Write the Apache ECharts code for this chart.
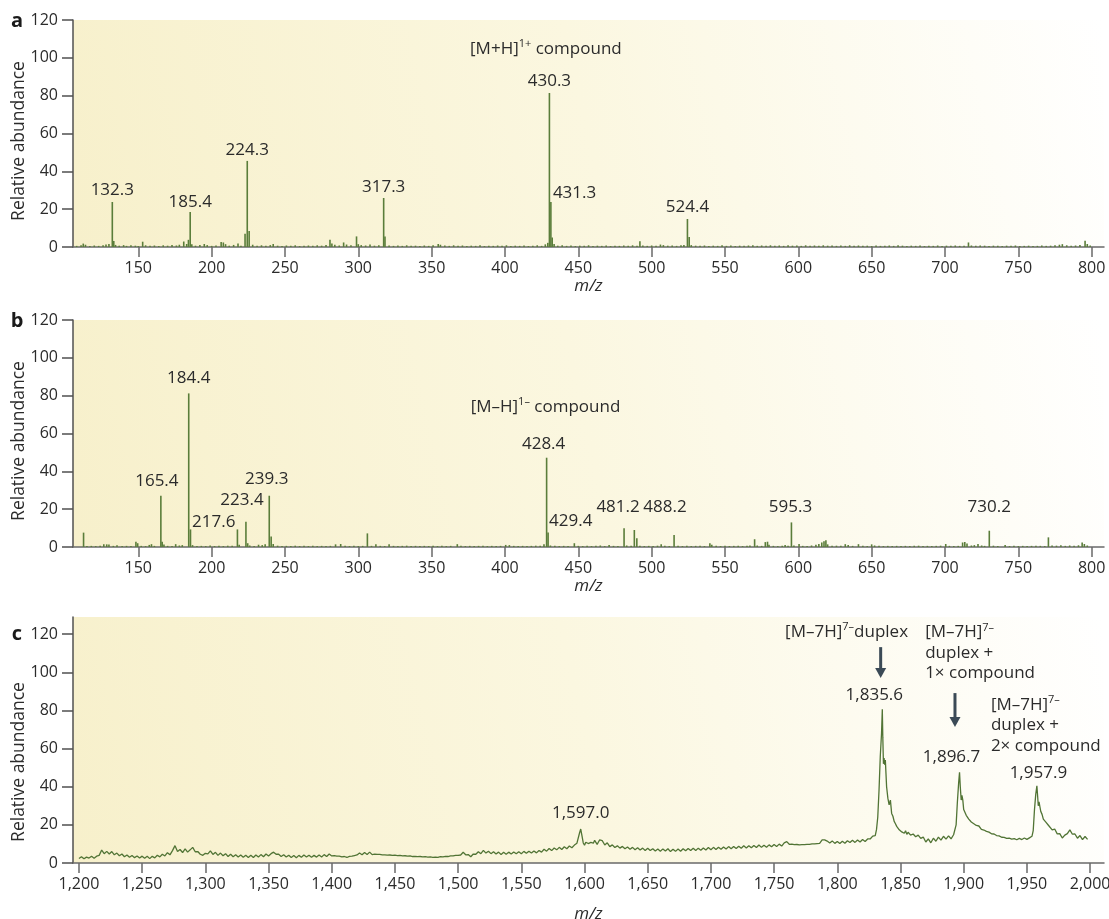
<!DOCTYPE html>
<html>
<head>
<meta charset="utf-8">
<script src="https://cdn.jsdelivr.net/npm/echarts@6/dist/echarts.min.js"></script>
<style>
html, body { margin: 0; padding: 0; background: #ffffff; }
#chart { width: 1109px; height: 919px; }
</style>
</head>
<body>
<div id="chart"></div>
<script>
// ---------- tick positions ----------
const ticksMzLow = [150, 200, 250, 300, 350, 400, 450, 500, 550, 600, 650, 700, 750, 800];
const ticksMzHigh = [1200, 1250, 1300, 1350, 1400, 1450, 1500, 1550, 1600, 1650, 1700, 1750, 1800, 1850, 1900, 1950, 2000];
const ticksAbundance = [0, 20, 40, 60, 80, 100, 120];

// ---------- panel a: positive-mode stick spectrum [m/z, relative abundance] ----------
const peaksA = [
  [132.3, 23.8], [185.4, 18.5], [224.3, 45.5], [317.3, 25.9],
  [430.3, 81.4], [431.3, 23.8], [524.4, 14.8]
];
const minorA = [
  [108,0.6],[111,0.9],[112.5,1.8],[114,1.2],[117,0.5],[120,0.8],[123,0.6],[126,0.9],[128,1.3],[130,1.6],
  [133.3,3.2],[134.5,1.1],[137,0.7],[140,1.0],[142,0.6],[145,0.9],[148,0.7],[150,0.5],[153,2.8],[155,0.9],
  [158,0.6],[161,0.8],[164,0.5],[167,0.9],[170,0.7],[173,1.0],[176,0.8],[178,1.2],[181,2.9],[183,1.6],
  [184.2,3.8],[186.5,1.5],[189,0.7],[192,1.1],[195,1.6],[197,1.0],[200,0.6],[203,0.8],[206.5,2.6],[208,2.4],
  [209.5,1.5],[212,0.7],[215,1.1],[218,1.8],[220,0.6],[222.8,7.0],[225.6,8.5],[228,1.2],[231,0.7],[234,0.9],
  [237,0.6],[240,1.0],[242,1.6],[245,0.7],[248,0.5],[251,0.8],[254,0.6],[257,0.9],[260,0.5],[263,0.7],
  [266,0.8],[269,0.6],[272,0.9],[275,0.7],[278,1.1],[280.7,3.8],[282,1.9],[284,1.2],[287,0.8],[290,2.4],
  [292,1.3],[295,0.9],[298.8,5.6],[300,1.5],[302,1.0],[305,0.8],[308,1.3],[311,0.7],[314,0.9],[318.2,5.6],
  [321,0.8],[324,0.6],[327,0.8],[330,0.6],[333,0.9],[336,0.6],[339,0.7],[342,0.5],[345,0.8],[348,0.6],
  [351,0.9],[354.5,1.6],[356,1.2],[359,0.8],[362,0.6],[365,0.9],[368,0.6],[371,0.8],[374,0.5],[377,0.7],
  [380,0.6],[383,0.9],[386,0.5],[389,0.7],[392,0.6],[395,0.8],[398,0.6],[401,0.9],[404,0.5],[407,0.7],
  [410,0.6],[413,0.8],[416,0.5],[419,0.7],[422,0.9],[425,0.6],[427.5,1.4],[429.2,2.2],[432.2,5.0],[433.5,1.6],
  [436,0.7],[439,0.9],[442,0.6],[445,0.8],[448,0.5],[451,0.7],[454,0.6],[457,0.9],[460,0.5],[463,0.7],
  [466,0.6],[469,0.8],[472,0.5],[475,0.7],[478,0.6],[481,0.8],[484,0.6],[487,0.9],[490,0.7],[492,3.0],
  [494,0.8],[497,0.6],[500,0.8],[503,0.6],[506,1.3],[508,1.0],[511,0.7],[514,0.8],[517,0.6],[520,0.9],
  [522,1.1],[525.6,5.3],[527,1.0],[530,0.7],[533,0.6],[536,0.8],[539,0.5],[542,0.7],[545,0.6],[548,0.9],
  [551,0.6],[554,0.8],[557,0.5],[560,0.7],[563,0.6],[566,0.8],[569,0.9],[572,0.6],[575,0.8],[578,0.6],
  [581,0.9],[584,0.7],[587,0.8],[590,0.6],[593,0.9],[596,0.7],[599,0.8],[602,0.6],[605,0.9],[608,0.7],
  [611,0.8],[614,0.6],[617,0.9],[620,0.7],[623,0.8],[626,0.6],[629,0.8],[632,0.6],[635,0.9],[638,0.7],
  [641,0.8],[644,0.6],[647,0.7],[650,0.5],[653,0.8],[656,0.6],[659,0.7],[662,0.8],[665,0.6],[668,0.9],
  [671,0.7],[674,0.5],[677,0.7],[680,0.6],[683,0.8],[686,0.5],[689,0.7],[692,0.6],[695,0.8],[698,0.5],
  [701,0.7],[704,0.6],[707,0.8],[710,0.6],[713,0.7],[716,2.4],[718,0.8],[721,0.6],[724,0.8],[727,0.7],
  [730,0.5],[733,0.7],[736,0.6],[739,0.5],[742,0.7],[745,0.6],[748,0.8],[751,0.5],[754,0.6],[757,0.7],
  [760,0.5],[763,0.6],[766,0.8],[769,0.6],[772,0.7],[775,0.9],[778,1.2],[780,1.5],[783,0.9],[786,0.7],
  [789,0.8],[792,1.0],[795.5,3.3],[797,1.6],[799,0.8]
];

// ---------- panel b: negative-mode stick spectrum ----------
const peaksB = [
  [165.4, 27.1], [184.4, 81.2], [217.6, 9.3], [223.4, 13.4], [239.3, 27.1], [428.4, 47.2],
  [429.4, 7.7], [481.2, 9.9], [488.2, 9.0], [595.3, 13.0], [730.2, 8.6]
];
const minorB = [
  [112.7,7.6],[115,0.5],[118,0.6],[121,0.5],[124,0.7],[126.5,1.5],[128.5,1.4],[130,1.3],[133,0.6],[135.5,0.9],
  [139,0.5],[142,0.6],[145,0.5],[148.4,2.8],[149.6,2.0],[152,0.6],[155,0.5],[157.5,1.1],[159,1.5],[161,0.6],
  [166.3,2.8],[167.5,1.3],[170,0.6],[173,0.5],[175.5,1.5],[178,0.8],[180,1.0],[185.6,9.3],[187,1.0],[190,0.5],
  [193,0.6],[196,0.5],[199,0.8],[202,0.5],[205,0.6],[208,0.5],[211,0.7],[214,0.6],[218.8,1.2],[224.6,2.0],
  [226,0.8],[229,0.5],[232,1.2],[234.5,1.0],[236.5,1.4],[240.6,5.5],[242,1.6],[245,0.7],[248,0.5],[251,0.6],
  [254,0.5],[257,0.7],[260,0.5],[263,0.6],[266,0.5],[269,0.6],[272,0.5],[275,0.6],[278,0.5],[281,0.6],
  [284.5,1.4],[288,1.6],[291,0.6],[294,0.5],[297,0.6],[300,0.5],[303,0.6],[306.2,7.2],[309,0.6],[312,1.5],
  [315,0.6],[318,0.5],[321,1.5],[324,0.6],[327,0.5],[330,0.6],[333,0.7],[336,0.5],[339,0.6],[342,0.5],
  [345,0.6],[348,0.5],[351,0.7],[354,0.5],[357,0.6],[360,0.5],[363,0.6],[367.5,1.5],[370,0.6],[373,0.5],
  [376,0.6],[379,0.5],[382,0.6],[385,0.7],[388,0.5],[391,0.6],[394,0.5],[397,0.6],[400.5,1.1],[403,1.0],
  [406,0.6],[409,0.5],[412,0.6],[415,0.5],[418,0.6],[421,0.7],[424,0.6],[426.6,1.5],[431,0.8],[434,0.6],
  [437,0.5],[440,0.6],[443,0.5],[447.3,2.0],[450,0.6],[453,0.5],[456,0.7],[459,0.5],[462,0.6],[465,0.8],
  [468,0.5],[471,1.0],[474,0.6],[477,0.5],[483,0.8],[486,0.6],[489.9,4.6],[492,0.7],[495,0.5],[498,0.6],
  [501,0.5],[504,0.7],[506.5,1.5],[509,0.6],[512,0.5],[515.3,6.3],[518,0.6],[521,0.5],[524,0.6],[527,0.5],
  [530,0.6],[533,0.7],[536,0.5],[539.7,2.0],[541,1.2],[544,0.6],[547,0.5],[550,0.6],[553,0.5],[556,0.6],
  [559,0.7],[562,0.5],[565,0.6],[567,0.8],[570.2,4.1],[572,0.8],[575,0.6],[577.5,2.6],[579,2.8],[580,1.2],
  [583,0.6],[586,0.5],[589,0.7],[591,1.0],[593,0.6],[597,0.8],[600.5,1.6],[603,0.6],[606,0.5],[609,0.8],
  [612,1.2],[614,1.6],[616,2.4],[617.5,3.0],[618.8,3.6],[620,1.4],[623,0.6],[626,0.7],[629,0.6],[632,1.5],
  [634,1.0],[637,0.6],[641,1.5],[644,0.6],[647,0.5],[650,1.4],[652,0.8],[655,0.6],[658,0.5],[661,0.6],
  [664,0.5],[667,0.6],[670,0.5],[673,0.6],[676,0.5],[679,0.6],[682,0.7],[685,0.5],[688,0.6],[691,0.5],
  [694,0.6],[697,0.7],[700.5,1.6],[703,0.6],[706,0.5],[709,0.6],[712,2.4],[713.5,2.6],[715,1.8],[718,0.8],
  [720,1.0],[722.5,1.6],[725,0.8],[727,0.6],[733,0.7],[736,0.5],[741,1.0],[744,0.5],[747,0.6],[750,0.5],
  [753,0.6],[756,0.5],[759,0.6],[762,0.7],[765,0.6],[768,0.5],[770.5,5.1],[773,0.8],[776,0.7],[779,0.9],
  [782,0.6],[785,0.8],[788,0.6],[791,0.9],[793.5,2.4],[795,1.6],[797,0.8]
];

// ---------- panel c: duplex profile spectrum [m/z, relative abundance] ----------
const profileC = [
  [1200,2.4],[1202,3.3],[1204,2.2],[1206,3.1],[1208,2.6],[1210,3.5],[1212,2.5],[1214,3.6],[1216,4.0],[1218,6.8],
  [1220,4.9],[1222,6.1],[1224,4.7],[1226,6.0],[1228,4.3],[1230,5.2],[1232,3.8],[1234,4.7],[1236,3.3],[1238,4.2],
  [1240,3.0],[1242,3.9],[1244,2.8],[1246,3.7],[1248,2.6],[1250,3.6],[1252,2.5],[1254,3.5],[1256,2.3],[1258,3.5],
  [1260,2.7],[1262,4.1],[1264,3.2],[1266,4.6],[1268,3.7],[1270,5.4],[1272,4.3],[1274,6.5],[1276,9.1],[1278,6.0],
  [1280,7.1],[1282,5.5],[1284,7.4],[1286,5.7],[1288,6.9],[1290,8.2],[1292,5.9],[1294,6.0],[1296,4.6],[1298,4.0],
  [1300,5.1],[1302,4.8],[1304,6.4],[1306,4.5],[1308,5.6],[1310,4.0],[1312,5.2],[1314,3.8],[1316,4.9],[1318,3.4],
  [1320,4.6],[1322,3.3],[1324,4.3],[1326,3.1],[1328,4.2],[1330,3.0],[1332,4.1],[1334,2.9],[1336,4.0],[1338,2.9],
  [1340,4.2],[1342,3.1],[1344,4.4],[1346,3.3],[1348,4.7],[1350,3.7],[1352,4.9],[1354,5.7],[1356,4.6],[1358,4.6],
  [1360,3.4],[1362,4.3],[1364,3.1],[1366,4.1],[1368,2.9],[1370,3.9],[1372,2.8],[1374,4.0],[1376,3.0],[1378,4.2],
  [1380,3.1],[1382,4.1],[1384,3.0],[1386,4.0],[1388,3.1],[1390,4.2],[1392,3.2],[1394,4.4],[1396,3.4],[1398,4.7],
  [1400,3.7],[1402,3.9],[1404,3.6],[1406,3.6],[1408,3.2],[1410,3.4],[1412,2.9],[1414,3.5],[1416,3.6],[1418,3.9],
  [1420,4.2],[1422,5.2],[1424,4.3],[1426,5.5],[1428,4.5],[1430,5.7],[1432,4.4],[1434,4.6],[1436,4.5],[1438,4.5],
  [1440,4.3],[1442,4.3],[1444,4.1],[1446,4.2],[1448,4.0],[1450,4.1],[1452,3.9],[1454,4.0],[1456,3.7],[1458,3.8],
  [1460,3.6],[1462,3.7],[1464,3.4],[1466,3.5],[1468,3.3],[1470,3.4],[1472,3.2],[1474,3.3],[1476,3.1],[1478,3.2],
  [1480,3.0],[1482,3.1],[1484,2.9],[1486,3.3],[1488,3.2],[1490,3.5],[1492,3.4],[1494,3.7],[1496,3.7],[1498,4.0],
  [1500,4.0],[1502,4.2],[1504,5.6],[1506,4.3],[1508,4.4],[1510,3.3],[1512,4.7],[1514,4.6],[1516,5.9],[1518,4.9],
  [1520,6.6],[1522,5.2],[1524,6.2],[1526,4.9],[1528,5.9],[1530,4.7],[1532,5.7],[1534,4.5],[1536,5.6],[1538,4.6],
  [1540,5.7],[1542,4.7],[1544,5.8],[1546,4.8],[1548,5.9],[1550,4.9],[1552,6.1],[1554,5.1],[1556,6.2],[1558,5.2],
  [1560,6.3],[1562,5.3],[1564,6.6],[1566,5.7],[1568,7.2],[1570,6.2],[1572,7.6],[1574,6.5],[1576,7.9],[1578,6.9],
  [1580,8.2],[1582,7.1],[1584,8.5],[1586,7.5],[1588,8.9],[1590,8.0],[1592,9.4],[1594,10.4],[1596,15.6],[1597.0,17.8],
  [1598,14.2],[1599,10.5],[1600,9.3],[1601,10.9],[1602,11.5],[1603,10.2],[1604,9.5],[1605,10.8],[1606,11.2],[1607,10.4],
  [1608,11.9],[1609,10.9],[1610,9.8],[1611,11.0],[1612,12.1],[1613,12.8],[1614,11.7],[1615,10.6],[1616,9.5],[1617,10.1],
  [1618,10.6],[1620,8.6],[1622,9.5],[1624,8.1],[1626,9.0],[1628,7.8],[1630,8.7],[1632,7.5],[1634,8.4],[1636,7.2],
  [1638,8.2],[1640,7.0],[1642,8.0],[1644,6.8],[1646,7.8],[1648,6.6],[1650,7.7],[1652,6.5],[1654,7.5],[1656,6.3],
  [1658,7.3],[1660,6.2],[1662,7.4],[1664,6.3],[1666,7.5],[1668,6.0],[1670,7.2],[1672,6.1],[1674,7.3],[1676,6.2],
  [1678,7.5],[1680,6.4],[1682,7.6],[1684,6.5],[1686,7.7],[1688,6.6],[1690,7.8],[1692,6.7],[1694,7.9],[1696,6.8],
  [1698,8.1],[1700,7.0],[1702,8.2],[1704,7.1],[1706,8.3],[1708,7.2],[1710,8.4],[1712,7.3],[1714,8.6],[1716,7.5],
  [1718,8.7],[1720,7.6],[1722,8.8],[1724,7.7],[1726,9.0],[1728,7.9],[1730,9.1],[1732,8.0],[1734,9.2],[1736,8.1],
  [1738,9.4],[1740,8.2],[1742,9.3],[1744,8.3],[1746,9.5],[1748,8.5],[1750,9.7],[1752,8.7],[1754,9.9],[1756,8.9],
  [1758,10.6],[1760,11.2],[1762,9.8],[1764,9.9],[1766,9.6],[1768,9.7],[1770,9.5],[1772,9.6],[1774,9.6],[1776,9.8],
  [1778,9.8],[1780,10.0],[1782,10.0],[1784,10.2],[1786,10.3],[1788,12.1],[1790,12.1],[1792,11.5],[1794,10.5],[1796,11.6],
  [1798,10.3],[1800,11.3],[1802,10.2],[1804,11.4],[1806,10.4],[1808,11.7],[1810,10.7],[1812,11.9],[1814,10.8],[1816,12.1],
  [1818,11.0],[1820,12.3],[1822,11.3],[1824,12.6],[1826,12.6],[1828,14.1],[1830,14.3],[1831,17.5],[1832,24.0],[1833,38.0],
  [1834,56.0],[1835,68.0],[1835.6,80.6],[1836,66.0],[1836.5,52.0],[1837,55.0],[1837.5,51.5],[1838,54.0],[1838.5,47.0],[1839,40.0],
  [1840,34.0],[1841,30.5],[1842,33.0],[1843,26.0],[1844,24.5],[1845,21.8],[1846,20.6],[1847,19.2],[1848,19.6],[1849,17.4],
  [1850,18.0],[1851,16.3],[1852,17.1],[1853,15.6],[1854,16.9],[1855,15.0],[1856,16.1],[1858,14.6],[1860,15.2],[1862,13.8],
  [1864,14.6],[1866,12.9],[1868,13.6],[1870,11.0],[1872,12.7],[1874,10.6],[1876,13.0],[1878,11.4],[1880,13.6],[1882,12.0],
  [1884,14.0],[1886,12.5],[1888,14.2],[1890,12.7],[1892,14.8],[1893,15.2],[1894,20.0],[1895,32.0],[1896,42.0],[1896.7,47.6],
  [1897.3,40.0],[1898,33.0],[1898.6,35.5],[1899.3,33.0],[1900,28.0],[1901,27.0],[1902,25.0],[1903,26.0],[1904,23.0],[1905,24.0],
  [1906,21.5],[1907,22.4],[1908,20.6],[1909,21.5],[1910,19.7],[1912,19.4],[1914,17.6],[1916,17.3],[1918,16.6],[1920,16.2],
  [1922,15.3],[1924,15.2],[1926,14.4],[1928,14.2],[1930,13.5],[1932,13.4],[1934,12.9],[1936,13.0],[1938,12.5],[1940,12.8],
  [1942,12.2],[1944,12.9],[1946,12.3],[1948,13.1],[1950,12.4],[1952,13.2],[1954,14.0],[1955,17.0],[1956,28.0],[1957,36.0],
  [1957.9,40.5],[1958.5,35.0],[1959,30.0],[1959.6,32.0],[1960.3,29.5],[1961,27.0],[1962,25.5],[1963,23.0],[1964,23.2],[1965,21.4],
  [1966,21.2],[1967,19.8],[1968,20.0],[1970,17.4],[1972,17.8],[1974,15.3],[1976,15.4],[1978,13.1],[1980,14.6],[1982,15.4],
  [1984,17.4],[1986,15.1],[1988,15.2],[1990,13.0],[1992,14.4],[1994,12.3],[1996,13.9],[1998,12.4]
];
const labelledMzC = [1597.0, 1835.6, 1896.7, 1957.9];

// ---------- styling ----------
const FONT = '"Open Sans", "Noto Sans", sans-serif';
const INK = '#2b2b2b';
const AXIS_COLOR = '#505050';
const SPECTRUM = '#5a7d3a';
const ARROW = '#3b4a56';

// label placement for the annotated peaks: gap above the peak top, horizontal shift, alignment
const labelPlaceA = [
  { gap: 12 }, { gap: 10 }, { gap: 11 }, { gap: 11 }, { gap: 12 },
  { gap: 9, dx: 2, align: 'left' }, { gap: 12 }
];
const labelPlaceB = [
  { gap: 15, dx: -4 }, { gap: 15 }, { gap: 7, dx: -2, align: 'right' }, { gap: 21, dx: -4 },
  { gap: 16.5, dx: -2.5 }, { gap: 13.5, dx: -3 }, { gap: 11, dx: 1, align: 'left' },
  { gap: 21, dx: -6 }, { gap: 23, dx: 9, align: 'left' }, { gap: 15, dx: -1 }, { gap: 23.5 }
];
const labelPlaceC = [
  { gap: 15 }, { gap: 14, dx: -8 }, { gap: 15, dx: -8 }, { gap: 12, dx: 1.5 }
];

function withCommas(text) {
  const parts = text.split('.');
  parts[0] = parts[0].replace(/\B(?=(\d{3})+(?!\d))/g, ',');
  return parts.join('.');
}

function peakLabel(text, place) {
  return {
    show: true,
    position: 'top',
    distance: place.gap,
    offset: [place.dx || 0, 0],
    align: place.align || 'center',
    verticalAlign: 'middle',
    formatter: text,
    fontFamily: FONT,
    fontSize: 17,
    color: INK,
    opacity: 1
  };
}

const panelBackground = new echarts.graphic.LinearGradient(0, 1, 1, 0, [
  { offset: 0, color: '#f7f0cb' },
  { offset: 0.5, color: '#fbf7e0' },
  { offset: 1, color: '#ffffff' }
]);

const grids = [
  { left: 73, top: 20, width: 1031, height: 227 },
  { left: 73, top: 320, width: 1031, height: 227 },
  { left: 73, top: 617, width: 1031, height: 246 }
].map(g => Object.assign(g, {
  show: true, backgroundColor: panelBackground, borderWidth: 0,
  containLabel: false, outerBoundsMode: 'none'
}));

function makeXAxis(gridIndex, min, max, ticks, nameGap, withSeparators) {
  return {
    type: 'value', gridIndex, min, max,
    name: 'm/z', nameLocation: 'middle', nameGap, nameMoveOverlap: false,
    nameTextStyle: { fontFamily: FONT, fontSize: 17, fontStyle: 'italic', color: INK },
    axisLine: { show: true, onZero: false, lineStyle: { color: '#6a6a6a', width: 1.5 } },
    axisTick: { show: true, length: 10, customValues: ticks, lineStyle: { color: '#6a6a6a', width: 1.5 } },
    axisLabel: {
      customValues: ticks, margin: 13, fontFamily: FONT, fontSize: 16, color: INK,
      formatter: v => withSeparators ? withCommas(String(v)) : String(v)
    },
    splitLine: { show: false }
  };
}

function makeYAxis(gridIndex, max, namePadRight) {
  return {
    type: 'value', gridIndex, min: 0, max,
    name: 'Relative abundance', nameLocation: 'middle', nameGap: 45, nameMoveOverlap: false,
    nameTextStyle: { fontFamily: FONT, fontSize: 17.5, color: INK, padding: [0, namePadRight, 0, 0] },
    axisLine: { show: true, lineStyle: { color: AXIS_COLOR, width: 1.5 } },
    axisTick: { show: true, length: 11, customValues: ticksAbundance, lineStyle: { color: AXIS_COLOR, width: 1.5 } },
    axisLabel: { customValues: ticksAbundance, margin: 15, fontFamily: FONT, fontSize: 16, color: INK },
    splitLine: { show: false }
  };
}

function stickSeries(index, minor, peaks, places) {
  return {
    type: 'bar', xAxisIndex: index, yAxisIndex: index,
    barWidth: 1.6, silent: true,
    itemStyle: { color: SPECTRUM },
    data: minor.map(p => ({ value: p }))
      .concat(peaks.map((p, i) => ({ value: p, label: peakLabel(p[0].toFixed(1), places[i]) })))
  };
}

const labelledPointsC = labelledMzC.map(mz => profileC.find(p => p[0] === mz));

const option = {
  backgroundColor: '#ffffff',
  animation: false,
  textStyle: { fontFamily: FONT },
  grid: grids,
  xAxis: [
    makeXAxis(0, 105.5, 808.4, ticksMzLow, 31, false),
    makeXAxis(1, 105.5, 808.4, ticksMzLow, 31, false),
    makeXAxis(2, 1195.3, 2011, ticksMzHigh, 43, true)
  ],
  yAxis: [
    makeYAxis(0, 120, 15),
    makeYAxis(1, 120, 15),
    makeYAxis(2, 129, 44)
  ],
  series: [
    stickSeries(0, minorA, peaksA, labelPlaceA),
    stickSeries(1, minorB, peaksB, labelPlaceB),
    {
      type: 'line', xAxisIndex: 2, yAxisIndex: 2, silent: true,
      showSymbol: false, symbol: 'none',
      lineStyle: { color: '#517435', width: 1.3 },
      data: profileC
    },
    {
      type: 'scatter', xAxisIndex: 2, yAxisIndex: 2, silent: true,
      symbolSize: 1, itemStyle: { color: 'rgba(0,0,0,0)', opacity: 1 },
      data: labelledPointsC.map((p, i) => ({
        value: p,
        label: peakLabel(withCommas(p[0].toFixed(1)), labelPlaceC[i])
      }))
    }
  ]
};

const chart = echarts.init(document.getElementById('chart'), null, { renderer: 'canvas' });
chart.setOption(option);

// ---------- annotations anchored in data coordinates ----------
const notes = [
  { grid: 0, at: [376.2, 104.7], text: '[M+H]{sup|1+} compound' },
  { grid: 1, at: [376.6, 74.0], text: '[M–H]{sup|1–} compound' },
  { grid: 2, at: [1758.7, 121.2], text: '[M–7H]{sup|7–}duplex' },
  { grid: 2, at: [1869.5, 121.0], text: '[M–7H]{sup|7–}\nduplex +\n1× compound' },
  { grid: 2, at: [1921.5, 82.8], text: '[M–7H]{sup|7–}\nduplex +\n2× compound' }
];
const arrows = [
  { grid: 2, from: [1834.3, 113.2], to: [1834.3, 97.0] },
  { grid: 2, from: [1893.1, 89.1], to: [1893.1, 71.3] }
];
const panelLetters = [
  { text: 'a', x: 17, y: 21 },
  { text: 'b', x: 17, y: 321 },
  { text: 'c', x: 17, y: 634 }
];

const LINE_H = 20.5;
const graphics = [];

notes.forEach(n => {
  const p = chart.convertToPixel({ gridIndex: n.grid }, n.at);
  graphics.push({
    type: 'text', silent: true, z: 50,
    x: p[0], y: p[1] - LINE_H / 2,
    style: {
      text: n.text,
      fontFamily: FONT, fontSize: 17, fill: INK,
      lineHeight: LINE_H,
      align: 'left', verticalAlign: 'top',
      rich: {
        sup: { fontFamily: FONT, fontSize: 11, fill: INK, verticalAlign: 'top', lineHeight: LINE_H, padding: [0, 0, 6, 0] }
      }
    }
  });
});

arrows.forEach(a => {
  const p0 = chart.convertToPixel({ gridIndex: a.grid }, a.from);
  const p1 = chart.convertToPixel({ gridIndex: a.grid }, a.to);
  const head = 10;
  graphics.push({
    type: 'line', silent: true, z: 50,
    shape: { x1: p0[0], y1: p0[1], x2: p1[0], y2: p1[1] - head + 1 },
    style: { stroke: ARROW, lineWidth: 3 }
  });
  graphics.push({
    type: 'polygon', silent: true, z: 50,
    shape: { points: [[p1[0] - 5.5, p1[1] - head], [p1[0] + 5.5, p1[1] - head], [p1[0], p1[1]]] },
    style: { fill: ARROW }
  });
});

panelLetters.forEach(l => {
  graphics.push({
    type: 'text', silent: true, z: 50,
    x: l.x, y: l.y,
    style: {
      text: l.text, fontFamily: FONT, fontSize: 20, fontWeight: 'bold', fill: '#1a1a1a',
      align: 'center', verticalAlign: 'middle'
    }
  });
});

chart.setOption({ graphic: graphics });
</script>
</body>
</html>
